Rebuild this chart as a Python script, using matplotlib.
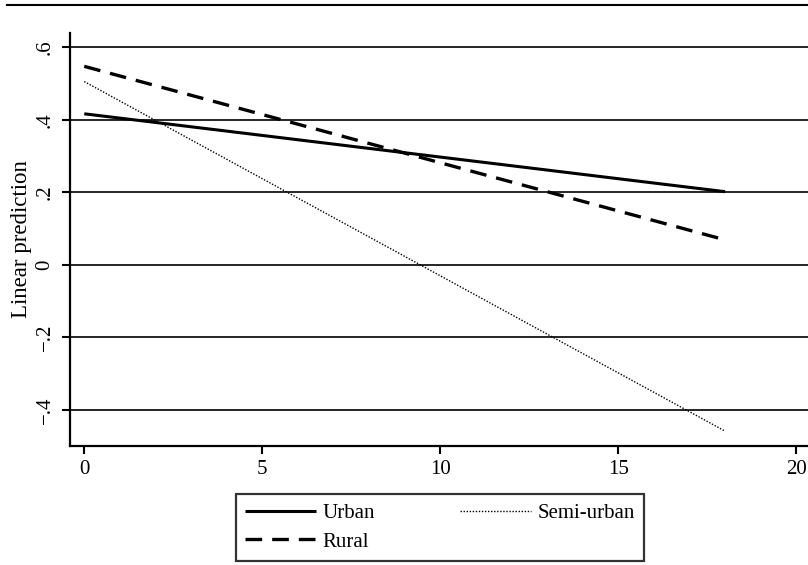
import matplotlib
matplotlib.use("Agg")
import matplotlib.pyplot as plt
from matplotlib.lines import Line2D
import numpy as np

plt.rcParams['font.family'] = ['Liberation Serif', 'DejaVu Serif']

x_vals = [0, 18]
urban = [0.417, 0.202]
rural = [0.548, 0.069]
semi_urban = [0.506, -0.459]

yticks = [-0.4, -0.2, 0, 0.2, 0.4, 0.6]
ytick_labels = ['\u2212.4', '\u2212.2', '0', '.2', '.4', '.6']
xticks = [0, 5, 10, 15, 20]
xtick_labels = ['0', '5', '10', '15', '20']

W, H = 808, 565
fig = plt.figure(figsize=(W/100, H/100), dpi=100)
ax = fig.add_axes([70/W, (H-446)/H, (808-70)/W, (446-33)/H])

for yt in yticks:
    ax.axhline(yt, color='black', lw=1.2, zorder=1)

ax.plot(x_vals, urban, color='black', lw=2.2, solid_capstyle='butt', label='Urban', zorder=3)
ax.plot(x_vals, semi_urban, color='black', lw=1.0, linestyle=(0, (1, 1.2)), label='Semi-urban', zorder=3)
ax.plot(x_vals, rural, color='black', lw=2.4, linestyle=(0, (5, 3)), label='Rural', zorder=3)

ax.set_xlim(-0.4, 20.33)
ax.set_ylim(-0.50, 0.64)
ax.set_xticks(xticks)
ax.set_xticklabels(xtick_labels, fontsize=15)
ax.set_yticks(yticks)
ax.set_yticklabels(ytick_labels, fontsize=15, rotation=90, va='center')
ax.tick_params(axis='both', direction='out', length=6, width=1.5, color='black')
ax.tick_params(axis='y', pad=5)
ax.tick_params(axis='x', pad=4)
ax.set_ylabel('Linear prediction', fontsize=16.5, labelpad=3)

for s in ['top', 'right']:
    ax.spines[s].set_visible(False)
ax.spines['left'].set_linewidth(1.6)
ax.spines['bottom'].set_linewidth(1.6)

handles, labels = ax.get_legend_handles_labels()
leg = fig.legend([handles[0], handles[2], handles[1]], ['Urban', 'Rural', 'Semi-urban'],
                 ncol=2, loc='center', mode='expand',
                 bbox_to_anchor=(236/W, (H-562)/H, 408/W, 69/H),
                 fontsize=15, frameon=True, fancybox=False, edgecolor='black',
                 handlelength=3.4, handletextpad=0.3,
                 labelspacing=0.45, borderpad=0.45, borderaxespad=0)
leg.get_frame().set_linewidth(1.6)

fig.add_artist(Line2D([7/W, 1.0], [(H-5)/H, (H-5)/H], color='black', lw=1.5))

fig.savefig('out.png', dpi=100)
